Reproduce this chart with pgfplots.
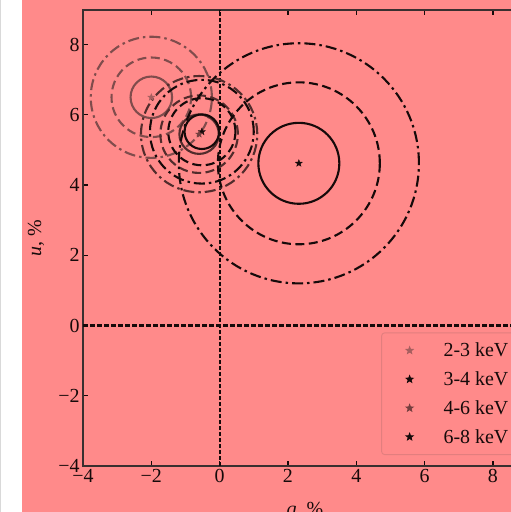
\documentclass[border=0pt]{standalone}
\usepackage{fontspec}
\setmainfont{Liberation Serif}
\usepackage{pgfplots}
\usepackage{pgfplotstable}
\pgfplotsset{compat=1.18}

\definecolor{bgpink}{RGB}{255,138,138}
\definecolor{c23}{RGB}{128,76,76}
\definecolor{c46}{RGB}{82,44,44}
\definecolor{cblk}{RGB}{22,10,10}
\definecolor{legframe}{RGB}{226,126,126}

\pgfdeclareplotmark{fstar}{%
  \pgfpathmoveto{\pgfpointpolar{90}{\pgfplotmarksize}}%
  \pgfpathlineto{\pgfpointpolar{126}{0.42\pgfplotmarksize}}%
  \pgfpathlineto{\pgfpointpolar{162}{\pgfplotmarksize}}%
  \pgfpathlineto{\pgfpointpolar{198}{0.42\pgfplotmarksize}}%
  \pgfpathlineto{\pgfpointpolar{234}{\pgfplotmarksize}}%
  \pgfpathlineto{\pgfpointpolar{270}{0.42\pgfplotmarksize}}%
  \pgfpathlineto{\pgfpointpolar{306}{\pgfplotmarksize}}%
  \pgfpathlineto{\pgfpointpolar{342}{0.42\pgfplotmarksize}}%
  \pgfpathlineto{\pgfpointpolar{18}{\pgfplotmarksize}}%
  \pgfpathlineto{\pgfpointpolar{54}{0.42\pgfplotmarksize}}%
  \pgfpathclose
  \pgfusepathqfillstroke
}

% centre (q,u) and the three contour radii (solid, dashed, dash-dot)
\pgfplotstableread{
x y r1 r2 r3
-2.00 6.50 0.60 1.15 1.75
}\bandA
\pgfplotstableread{
x y r1 r2 r3
-0.52 5.52 0.50 0.97 1.50
}\bandB
\pgfplotstableread{
x y r1 r2 r3
-0.60 5.45 0.57 1.12 1.68
}\bandC
\pgfplotstableread{
x y r1 r2 r3
2.32 4.62 1.17 2.34 3.47
}\bandD

\pgfplotsset{
  ring/.style n args={3}{forget plot, only marks, scatter, mark=o,
    line width=2.1bp, #2,
    point meta=0,
    scatter/use mapped color={draw=#1},
    visualization depends on={\thisrow{#3}\as\rad},
    scatter/@pre marker code/.append style={/tikz/mark size=\rad*34.6bp}},
  dashring/.style={dash pattern=on 9bp off 4.5bp},
  dotring/.style={dash pattern=on 11bp off 4bp on 2.5bp off 4bp},
  solidring/.style={solid},
}

\begin{document}
\begin{tikzpicture}
\useasboundingbox (0,0) rectangle (511bp,512bp);
\fill[white] (0,0) rectangle (22bp,512bp);
\draw[black!15, line width=0.8bp] (0.4bp,0) -- (0.4bp,512bp);
\fill[bgpink] (22bp,0) rectangle (511bp,512bp);
\begin{axis}[
  at={(83bp,46bp)}, anchor=south west,
  scale only axis, width=444bp, height=456.5bp,
  xmin=-4, xmax=9, ymin=-4, ymax=9,
  point meta min=0, point meta max=1,
  axis line style={line width=2bp, cblk!85},
  tick style={line width=1.3bp, cblk},
  major tick length=5bp,
  tick align=inside,
  xtick={-4,-2,0,2,4,6,8},
  ytick={-4,-2,0,2,4,6,8},
  xticklabels={−4,−2,0,2,4,6,8},
  yticklabels={−4,−2,0,2,4,6,8},
  tick label style={font=\fontsize{20}{24}\selectfont, text=cblk},
  xlabel={\textit{q}, \%},
  ylabel={\textit{u}, \%},
  label style={font=\fontsize{20}{24}\selectfont, text=cblk},
  xlabel style={at={(axis description cs:0.5,-0.078)}, anchor=north, inner sep=0pt},
  ylabel style={at={(axis description cs:-0.106,0.5)}, anchor=center, inner sep=0pt},
  legend style={at={(axis description cs:0.977,0.024)}, anchor=south east,
    fill=bgpink, draw=legframe, line width=0.9bp, rounded corners=3bp,
    font=\fontsize{20}{24}\selectfont, text=cblk, row sep=9.5bp, inner xsep=6bp, inner ysep=8bp},
  legend cell align=left,
  legend image code/.code={\path[draw=none] (0bp,0bp) (54bp,0bp);
    \path[#1, draw=none] plot coordinates {(22bp,0bp)};},
]
% zero lines
\addplot[forget plot, cblk, line width=2.4bp, dash pattern=on 4.5bp off 2.5bp] coordinates {(-4,0) (9,0)};
\addplot[forget plot, cblk, line width=1.9bp, dash pattern=on 3.5bp off 2.5bp] coordinates {(0,-4) (0,9)};

% 2-3 keV
\addplot[ring={c23}{solidring}{r1}] table[x=x,y=y] {\bandA};
\addplot[ring={c23}{dashring}{r2}] table[x=x,y=y] {\bandA};
\addplot[ring={c23}{dotring}{r3}] table[x=x,y=y] {\bandA};
% 4-6 keV
\addplot[ring={c46}{solidring}{r1}] table[x=x,y=y] {\bandC};
\addplot[ring={c46}{dashring}{r2}] table[x=x,y=y] {\bandC};
\addplot[ring={c46}{dotring}{r3}] table[x=x,y=y] {\bandC};
% 3-4 keV
\addplot[ring={cblk}{solidring}{r1}] table[x=x,y=y] {\bandB};
\addplot[ring={cblk}{dashring}{r2}] table[x=x,y=y] {\bandB};
\addplot[ring={cblk}{dotring}{r3}] table[x=x,y=y] {\bandB};
% 6-8 keV
\addplot[ring={cblk}{solidring}{r1}] table[x=x,y=y] {\bandD};
\addplot[ring={cblk}{dashring}{r2}] table[x=x,y=y] {\bandD};
\addplot[ring={cblk}{dotring}{r3}] table[x=x,y=y] {\bandD};

% centres
\addplot[only marks, mark=fstar, mark size=3.6bp, c23!70!bgpink] table[x=x,y=y] {\bandA};
\addlegendentry{2-3 keV}
\addplot[only marks, mark=fstar, mark size=3.6bp, cblk] table[x=x,y=y] {\bandB};
\addlegendentry{3-4 keV}
\addplot[only marks, mark=fstar, mark size=3.6bp, c46!80!bgpink] table[x=x,y=y] {\bandC};
\addlegendentry{4-6 keV}
\addplot[only marks, mark=fstar, mark size=3.6bp, cblk] table[x=x,y=y] {\bandD};
\addlegendentry{6-8 keV}
\end{axis}
\end{tikzpicture}
\end{document}
